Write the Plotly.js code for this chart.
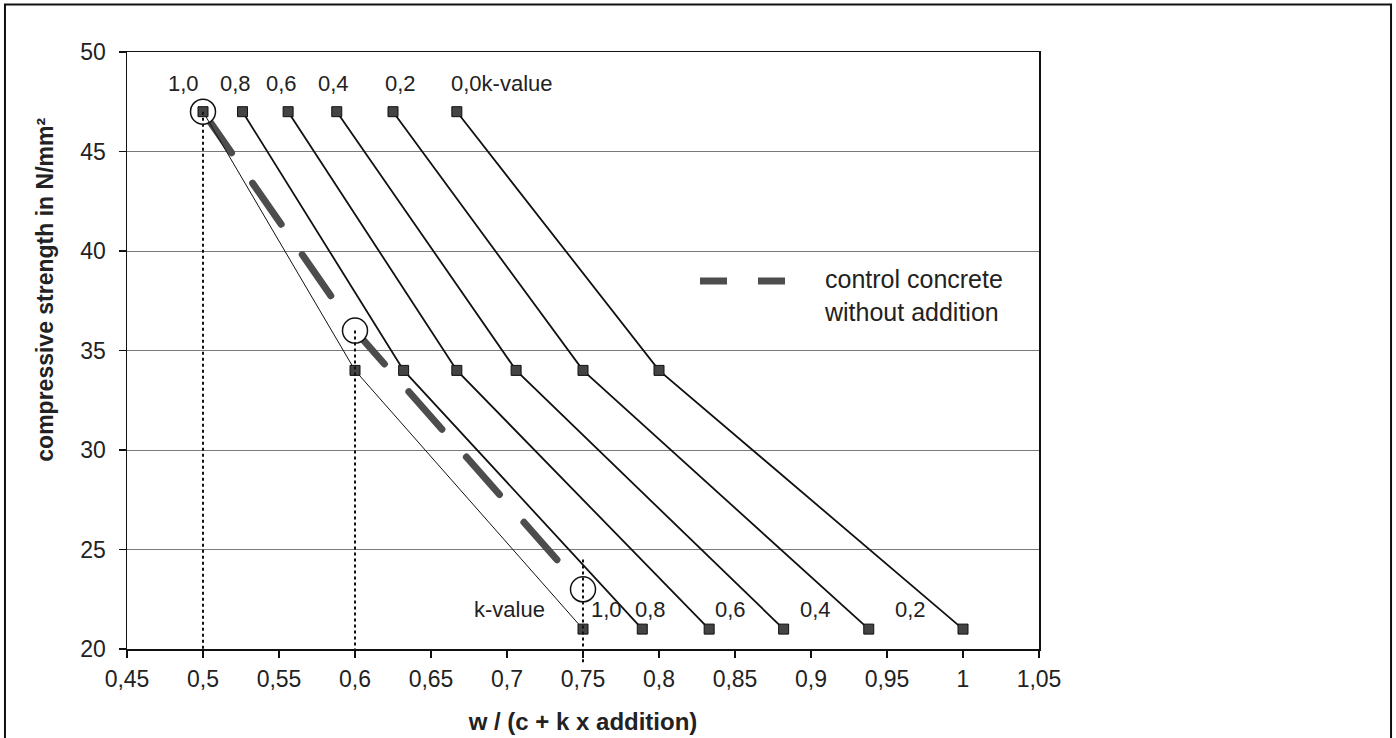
<!DOCTYPE html>
<html>
<head>
<meta charset="utf-8">
<script src="https://cdn.plot.ly/plotly-3.0.1.min.js"></script>
<style>
  html, body { margin: 0; padding: 0; background: #fff; }
  #chart { width: 1396px; height: 738px; }
  .tracecontrol path.js-line { stroke-linecap: round; }
</style>
</head>
<body>
<div id="chart"></div>
<script>
// ---- data ----
const kValues = [1.0, 0.8, 0.6, 0.4, 0.2, 0.0];
const kLabels = ['1,0', '0,8', '0,6', '0,4', '0,2', '0,0'];
const strengthLevels = [47, 34, 21];          // compressive strength, N/mm²
const wcAt47 = [0.500, 0.526, 0.556, 0.588, 0.625, 0.667];
const wcAt34 = [0.600, 0.632, 0.667, 0.706, 0.750, 0.800];
const wcAt21 = [0.750, 0.789, 0.833, 0.882, 0.938, 1.000];

const controlX = [0.50, 0.60, 0.75];
const controlY = [47, 36, 23];
const guideTopY = [47, 36, 24.5];
const axisMinY = 20;

const xTickVals = [0.45, 0.5, 0.55, 0.6, 0.65, 0.7, 0.75, 0.8, 0.85, 0.9, 0.95, 1, 1.05];
const xTickText = ['0,45', '0,5', '0,55', '0,6', '0,65', '0,7', '0,75', '0,8', '0,85', '0,9', '0,95', '1', '1,05'];
const yTickVals = [20, 25, 30, 35, 40, 45, 50];

const legendText = 'control concrete<br>without addition';
const xTitle = 'w / (c + k x addition)';
const yTitle = 'compressive strength in N/mm²';

// ---- styling / label offsets (px) ----
const FONT = 'Liberation Sans, Arial, sans-serif';
const topLabelShift = [-20, -7, -7, -3, 7, -8];
const bottomLabelShift = [23, 8, 21, 32, 42];
// invisible lead (zero-width char + no-break spaces) nudges the rotated title upward as in the reference
const yTitleLead = '\u200b' + '\u00a0'.repeat(19);

const traces = [];

// control concrete (thick dashed)
traces.push({
  uid: 'control', type: 'scatter', mode: 'lines',
  x: controlX, y: controlY,
  line: { color: '#4d4d4d', width: 7, dash: '50px,37px' },
  hoverinfo: 'skip', showlegend: false
});
// circles around the control points
traces.push({
  type: 'scatter', mode: 'markers',
  x: controlX, y: controlY,
  marker: { symbol: 'circle', size: 25, color: 'white', line: { color: '#111', width: 1.5 } },
  hoverinfo: 'skip', showlegend: false
});
// k-value lines
kValues.forEach((k, i) => {
  traces.push({
    type: 'scatter', mode: 'lines+markers',
    name: 'k = ' + kLabels[i],
    x: [wcAt47[i], wcAt34[i], wcAt21[i]], y: strengthLevels,
    line: { color: '#111', width: k === 1.0 ? 1 : 1.8 },
    marker: { symbol: 'square', size: 10, color: '#444', line: { color: '#111', width: 1 } },
    showlegend: false
  });
});
// dotted guide lines
controlX.forEach((x, i) => {
  traces.push({
    type: 'scatter', mode: 'lines',
    x: [x, x], y: [guideTopY[i], axisMinY],
    line: { color: '#111', width: 2, dash: 'dot' },
    hoverinfo: 'skip', showlegend: false
  });
});

const annotations = [];
kLabels.forEach((lab, i) => {
  const last = i === kLabels.length - 1;
  annotations.push({
    x: wcAt47[i], y: strengthLevels[0], xref: 'x', yref: 'y',
    text: last ? lab + 'k-value' : lab, showarrow: false,
    xanchor: last ? 'left' : 'center', yanchor: 'middle',
    xshift: topLabelShift[i], yshift: 28,
    font: { family: FONT, size: 22, color: '#222' }
  });
});
kLabels.slice(0, 5).forEach((lab, i) => {
  annotations.push({
    x: wcAt21[i], y: strengthLevels[2], xref: 'x', yref: 'y',
    text: lab, showarrow: false, xanchor: 'center', yanchor: 'middle',
    xshift: bottomLabelShift[i], yshift: 20,
    font: { family: FONT, size: 22, color: '#222' }
  });
});
annotations.push({
  x: wcAt21[0], y: strengthLevels[2], xref: 'x', yref: 'y',
  text: 'k-value', showarrow: false, xanchor: 'right', yanchor: 'middle',
  xshift: -36, yshift: 20,
  font: { family: FONT, size: 22, color: '#222' }
});
// legend text
annotations.push({
  x: 0.7621, y: 0.5913, xref: 'paper', yref: 'paper',
  text: legendText, showarrow: false, xanchor: 'left', yanchor: 'middle', align: 'left',
  font: { family: FONT, size: 25, color: '#222' }
});

const shapes = [
  // outer frame
  { type: 'rect', xref: 'paper', yref: 'paper', x0: -0.1338, x1: 1.386, y0: -0.16, y1: 1.0796,
    line: { color: '#111', width: 2 }, fillcolor: 'rgba(0,0,0,0)', layer: 'below' },
  // legend sample
  { type: 'line', xref: 'paper', yref: 'paper', x0: 0.6283, x1: 0.7215, y0: 0.6164, y1: 0.6164,
    line: { color: '#4d4d4d', width: 7, dash: '27px,31px' } },
  // small overshoot of the last guide below the axis
  { type: 'line', xref: 'x', yref: 'paper', x0: controlX[2], x1: controlX[2], y0: -0.022, y1: 0,
    line: { color: '#111', width: 2, dash: 'dot' } }
];

const layout = {
  width: 1396, height: 738,
  margin: { l: 127, r: 357, t: 52, b: 89, pad: 0 },
  paper_bgcolor: 'white', plot_bgcolor: 'white',
  showlegend: false,
  font: { family: FONT, size: 23, color: '#222' },
  xaxis: {
    range: [0.45, 1.05], tickvals: xTickVals, ticktext: xTickText,
    showgrid: false, zeroline: false,
    showline: true, linecolor: '#111', linewidth: 1.5, mirror: true,
    ticks: 'outside', ticklen: 7, tickwidth: 1.2, tickcolor: '#111',
    ticklabelstandoff: 2,
    tickfont: { family: FONT, size: 23, color: '#222' },
    title: { text: xTitle, standoff: 22, font: { family: FONT, size: 24, color: '#222', weight: 'bold' } },
    automargin: false, fixedrange: true
  },
  yaxis: {
    range: [20, 50], tickvals: yTickVals,
    showgrid: true, gridcolor: '#7a7a7a', gridwidth: 1, zeroline: false,
    showline: true, linecolor: '#111', linewidth: 1.5, mirror: true,
    ticks: 'outside', ticklen: 7, tickwidth: 1.2, tickcolor: '#111',
    ticklabelstandoff: 8,
    tickfont: { family: FONT, size: 23, color: '#222' },
    title: { text: yTitleLead + yTitle, standoff: 20, font: { family: FONT, size: 23, color: '#222', weight: 'bold' } },
    automargin: false, fixedrange: true
  },
  annotations: annotations,
  shapes: shapes
};

Plotly.newPlot('chart', traces, layout, { displayModeBar: false, staticPlot: true });
</script>
</body>
</html>
